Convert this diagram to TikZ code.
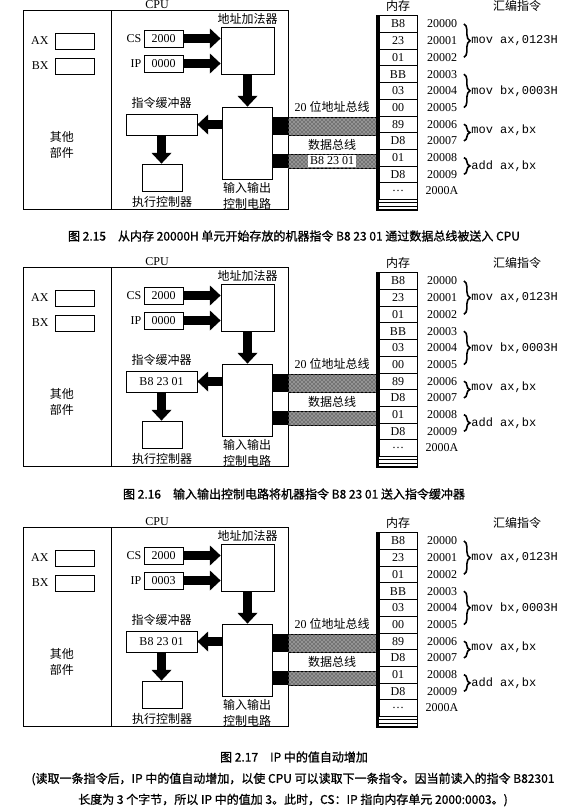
\documentclass[tikz,border=0pt]{standalone}
\usepackage{fontspec}
\setmainfont{Liberation Serif}
\setmonofont{Liberation Mono}
\newfontfamily\cjk{Noto Sans CJK SC}
\newfontfamily\cjkcap{Noto Sans CJK SC}[FakeBold=1]
\usetikzlibrary{positioning,fit,arrows.meta,shadows,patterns,decorations.pathreplacing}
\tikzset{
  every node/.style={font=\fontsize{9}{11}\selectfont},
  zh/.style={font=\cjk\fontsize{9}{12}\selectfont},
  asm/.style={font=\ttfamily\fontsize{9}{11}\selectfont},
  captext/.style={font=\cjkcap\fontsize{9}{15.75}\selectfont, align=center},
  frame/.style={draw, line width=0.6pt, fill=white, inner sep=0pt,
    drop shadow={shadow xshift=0.6pt, shadow yshift=-0.6pt, opacity=1, fill=black}},
  cell/.style={draw, line width=0.5pt, minimum width=28.5pt, minimum height=12.5pt, inner sep=0pt},
  fat/.style={line width=7pt, -{Triangle[length=8pt, width=15pt, line width=0pt]}},
  busband/.style={draw, line width=0.5pt, inner sep=0pt, fill=black!55,
    postaction={pattern=crosshatch dots, pattern color=white}},
  port/.style={fill=black, inner sep=0pt},
  membrace/.style={decorate, decoration={brace, amplitude=4.5pt}, line width=1.2pt},
}
\begin{document}
\begin{tikzpicture}[x=0.75pt, y=-0.75pt]
  \path[use as bounding box, fill=white] (0,0) rectangle (580,808);

  \foreach \p/\dy/\ipv in {a/0/0000, b/257/0000, c/517/0003} {
  \begin{scope}[shift={(0,\dy)}]
    \node[frame, fit={(23,10) (288,209)}] (cpu-\p) {};
    \draw[line width=0.6pt] (111,10) -- (111,209);
    \node at (157,5) {CPU};

    \node[frame, fit={(55,33) (94,49)}] (ax-\p) {};
    \node[frame, fit={(55,58) (94,74)}] (bx-\p) {};
    \node[left=1pt of ax-\p] {AX};
    \node[left=1pt of bx-\p] {BX};
    \node[zh, align=center] (other-\p) at (62,145) {其他\\部件};

    \node[frame, fit={(144,30) (183,47)}] (cs-\p) {};
    \node[frame, fit={(144,55) (183,72)}] (ip-\p) {};
    \node (csv-\p) at (cs-\p) {2000};
    \node (ipv-\p) at (ip-\p) {\ipv};
    \node[left=0pt of cs-\p, inner sep=1.5pt] {CS};
    \node[left=0pt of ip-\p, inner sep=1.5pt] {IP};

    \node[frame, fit={(221,27) (274,74)}] (add-\p) {};
    \node[zh, above=-2pt of add-\p] {地址加法器};
    \node[frame, fit={(222,107) (272,179)}] (io-\p) {};
    \node[zh, align=center, below=-1pt of io-\p] {输入输出\\控制电路};
    \node[frame, fit={(126,114) (197,135)}] (buf-\p) {};
    \node[zh, above=0pt of buf-\p] {指令缓冲器};
    \node[frame, fit={(142,164) (182,191)}] (exe-\p) {};
    \node[zh, below=0pt of exe-\p] {执行控制器};

    \draw[fat] (cs-\p.east) -- (cs-\p.east -| add-\p.west);
    \draw[fat] (ip-\p.east) -- (ip-\p.east -| add-\p.west);
    \draw[fat] (add-\p.south) -- (add-\p.south |- io-\p.north);
    \draw[fat] (io-\p.west |- buf-\p.east) -- (buf-\p.east);
    \draw[fat] (buf-\p.south) -- (buf-\p.south |- exe-\p.north);

    \node[port, fit={(272,117) (288,135)}] (pa-\p) {};
    \node[port, fit={(272,154) (288,168)}] (pd-\p) {};
    \node[busband, fit={(288,117) (376,135)}] (abus-\p) {};
    \node[busband, fit={(288,154) (376,168)}] (dbus-\p) {};
    \node[above=0pt of abus-\p] {20 {\cjk 位地址总线}};
    \node[zh] at (332,145) {数据总线};

    \node[draw, line width=0.6pt, inner sep=0pt, fit={(376,15.6) (417,210)}] (mem-\p) {};
    \fill (376,15.6) rectangle (379,210);
    \foreach \v [count=\k from 0] in {B8,23,01,BB,03,00,89,D8,01,D8,\dots}
      \node[cell] (m-\p-\k) at (398,{24+16.7*\k}) {\v};
    \foreach \j in {0,1,2,3}
      \draw[line width=0.5pt] (379,{199.3+3.5*\j}) -- (417,{199.3+3.5*\j});
    \foreach \a [count=\k from 0] in {20000,20001,20002,20003,20004,20005,20006,20007,20008,20009,2000A}
      \node[inner sep=1pt] (ad-\p-\k) at (442,{24+16.7*\k}) {\a};
    \node[zh] at (398,6) {内存};
    \node[zh] at (517,6) {汇编指令};

    \draw[membrace] ([xshift=4pt]ad-\p-0.east) -- ([xshift=4pt]ad-\p-2.east)
      node[asm, midway, right=5pt, inner sep=0pt] {mov ax,0123H};
    \draw[membrace] ([xshift=4pt]ad-\p-3.east) -- ([xshift=4pt]ad-\p-5.east)
      node[asm, midway, right=5pt, inner sep=0pt] {mov bx,0003H};
    \draw[membrace] ([xshift=4pt]ad-\p-6.east) -- ([xshift=4pt]ad-\p-7.east)
      node[asm, midway, right=5pt, inner sep=0pt, yshift=2pt] {mov ax,bx};
    \draw[membrace] ([xshift=4pt]ad-\p-8.east) -- ([xshift=4pt]ad-\p-9.east)
      node[asm, midway, right=5pt, inner sep=0pt] {add ax,bx};
  \end{scope}
  }

  \node[fill=white, inner sep=1.5pt] (tag-a) at (dbus-a) {B8 23 01};
  \node (bufv-b) at (buf-b) {B8 23 01};
  \node (bufv-c) at (buf-c) {B8 23 01};

  \node[captext] (cap-a) at (294,236) {图 2.15\quad 从内存 20000H 单元开始存放的机器指令 B8 23 01 通过数据总线被送入 CPU};
  \node[captext] (cap-b) at (294,494) {图 2.16\quad 输入输出控制电路将机器指令 B8 23 01 送入指令缓冲器};
  \node[captext] (cap-c) at (294,757) {图 2.17\quad IP 中的值自动增加};
  \node[captext] (note-c) at (293,789.5) {(读取一条指令后，IP 中的值自动增加，以使 CPU 可以读取下一条指令。因当前读入的指令 B82301\\长度为 3 个字节，所以 IP 中的值加 3。此时，CS：IP 指向内存单元 2000:0003。)};
\end{tikzpicture}
\end{document}
